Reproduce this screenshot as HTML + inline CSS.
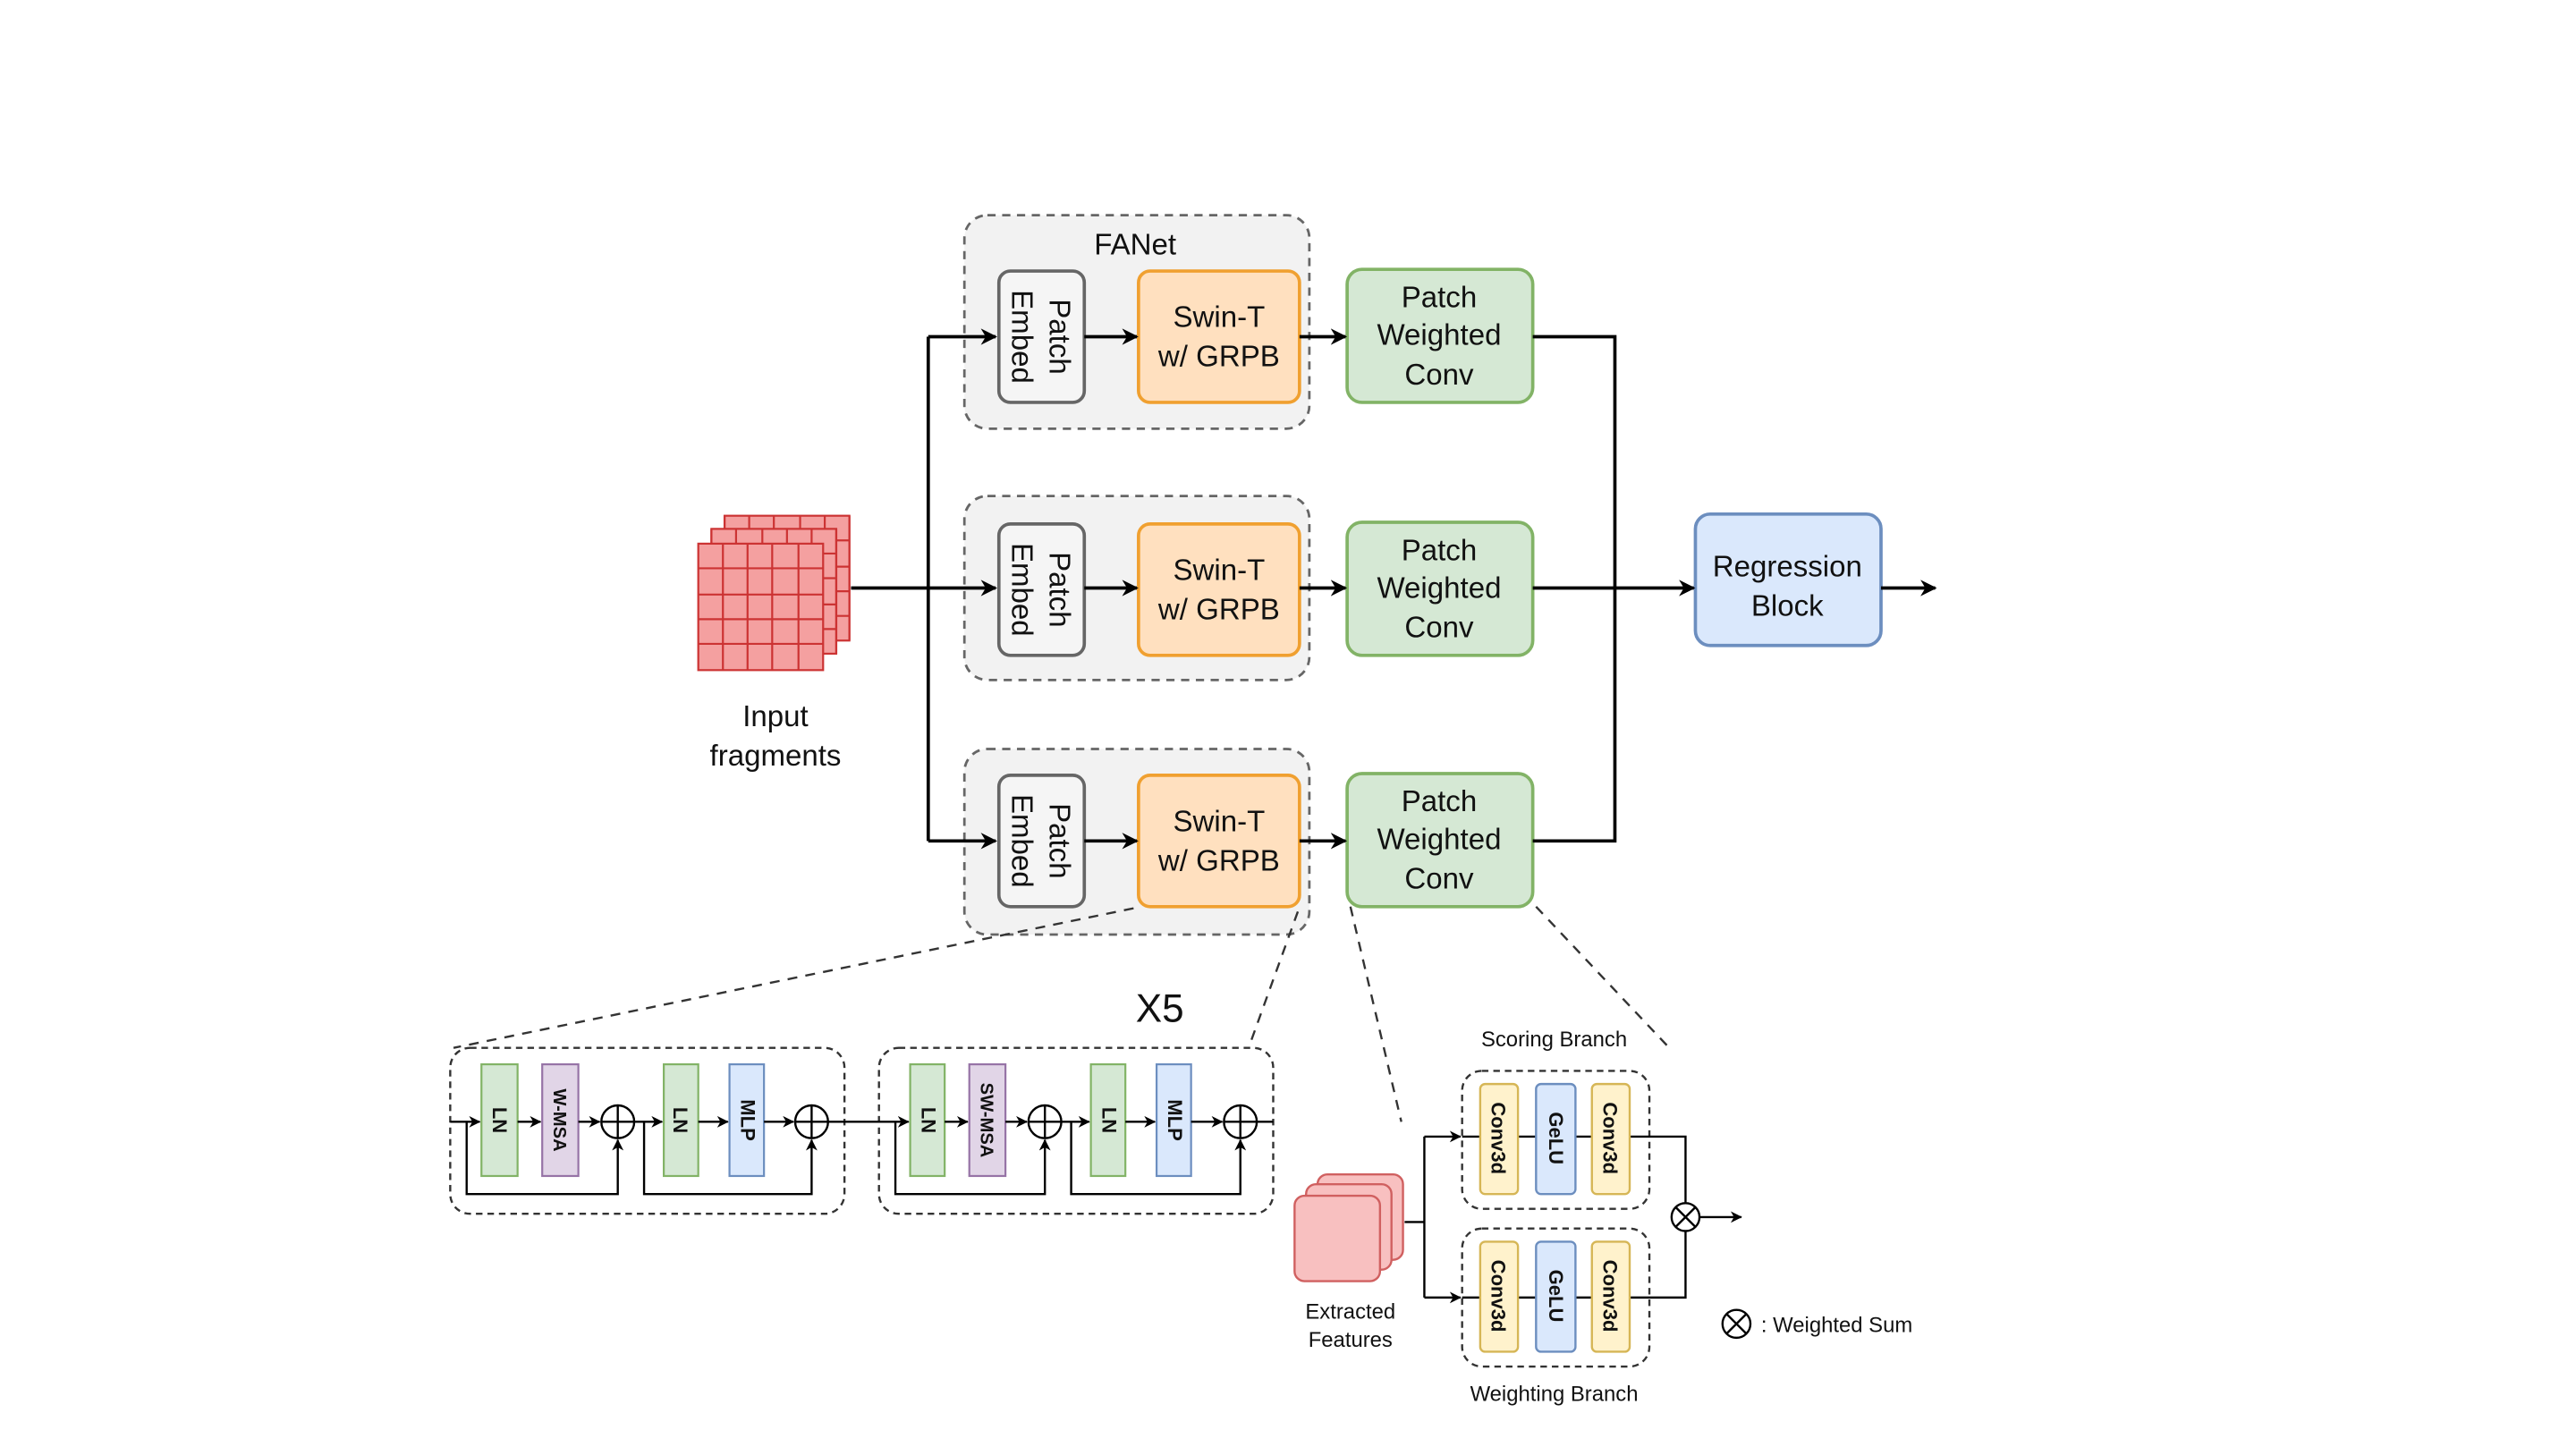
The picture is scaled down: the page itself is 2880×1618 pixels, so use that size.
<!DOCTYPE html>
<html><head><style>html,body{margin:0;padding:0;background:#fff}svg{display:block}text{font-family:"Liberation Sans",sans-serif;fill:#111}</style></head>
<body>
<svg width="2880" height="1618" viewBox="0 0 1568 881" xmlns="http://www.w3.org/2000/svg">
<defs>
<marker id="a" markerWidth="10" markerHeight="10" refX="9" refY="5" orient="auto" markerUnits="userSpaceOnUse"><path d="M0,0 L10,5 L0,10 L3,5z" fill="#000"/></marker>
<marker id="s" markerWidth="7" markerHeight="7" refX="6.5" refY="3.5" orient="auto" markerUnits="userSpaceOnUse"><path d="M0,0 L7,3.5 L0,7 L2,3.5z" fill="#000"/></marker>
</defs>
<rect width="1568" height="881" fill="#fff"/>
<!-- top rows -->
<g id="rows">
<rect x="587" y="131" width="210" height="130" rx="14" fill="#f2f2f2" stroke="#666" stroke-width="1.5" stroke-dasharray="5,4"/>
<rect x="587" y="302" width="210" height="112" rx="14" fill="#f2f2f2" stroke="#666" stroke-width="1.5" stroke-dasharray="5,4"/>
<rect x="587" y="456" width="210" height="113" rx="14" fill="#f2f2f2" stroke="#666" stroke-width="1.5" stroke-dasharray="5,4"/>
<text x="691" y="155" font-size="18" text-anchor="middle">FANet</text>
</g>
<g font-size="18" text-anchor="middle">
<!-- row template -->
<g>
<rect x="608" y="165" width="52" height="80" rx="7" fill="#f5f5f5" stroke="#666" stroke-width="2"/>
<text transform="translate(634,205) rotate(90)" y="-3"><tspan x="0" dy="-2">Patch</tspan><tspan x="0" dy="23">Embed</tspan></text>
<rect x="693" y="165" width="98" height="80" rx="7" fill="#ffe0bf" stroke="#f0a030" stroke-width="2"/>
<text x="742" y="199">Swin-T</text><text x="742" y="223">w/ GRPB</text>
<rect x="820" y="164" width="113" height="81" rx="9" fill="#d5e8d4" stroke="#82b366" stroke-width="2"/>
<text x="876" y="187">Patch</text><text x="876" y="210">Weighted</text><text x="876" y="234">Conv</text>
</g>
<g transform="translate(0,154)">
<rect x="608" y="165" width="52" height="80" rx="7" fill="#f5f5f5" stroke="#666" stroke-width="2"/>
<text transform="translate(634,205) rotate(90)" y="-3"><tspan x="0" dy="-2">Patch</tspan><tspan x="0" dy="23">Embed</tspan></text>
<rect x="693" y="165" width="98" height="80" rx="7" fill="#ffe0bf" stroke="#f0a030" stroke-width="2"/>
<text x="742" y="199">Swin-T</text><text x="742" y="223">w/ GRPB</text>
<rect x="820" y="164" width="113" height="81" rx="9" fill="#d5e8d4" stroke="#82b366" stroke-width="2"/>
<text x="876" y="187">Patch</text><text x="876" y="210">Weighted</text><text x="876" y="234">Conv</text>
</g>
<g transform="translate(0,307)">
<rect x="608" y="165" width="52" height="80" rx="7" fill="#f5f5f5" stroke="#666" stroke-width="2"/>
<text transform="translate(634,205) rotate(90)" y="-3"><tspan x="0" dy="-2">Patch</tspan><tspan x="0" dy="23">Embed</tspan></text>
<rect x="693" y="165" width="98" height="80" rx="7" fill="#ffe0bf" stroke="#f0a030" stroke-width="2"/>
<text x="742" y="199">Swin-T</text><text x="742" y="223">w/ GRPB</text>
<rect x="820" y="164" width="113" height="81" rx="9" fill="#d5e8d4" stroke="#82b366" stroke-width="2"/>
<text x="876" y="187">Patch</text><text x="876" y="210">Weighted</text><text x="876" y="234">Conv</text>
</g>
<rect x="1032" y="313" width="113" height="80" rx="9" fill="#dae8fc" stroke="#6c8ebf" stroke-width="2"/>
<text x="1088" y="351">Regression</text><text x="1088" y="375">Block</text>
<text x="472" y="442">Input</text><text x="472" y="466">fragments</text>
</g>
<!-- input fragments -->
<g stroke="#c33" stroke-width="1.2" fill="#f4a0a0">
<rect x="441" y="314" width="76" height="76"/><rect x="433" y="322" width="76" height="76"/><rect x="425" y="331" width="76" height="77"/>
<path d="M440 331V408M455 331V408M470 331V408M486 331V408M425 346H501M425 362H501M425 377H501M425 392H501" fill="none"/>
<path d="M433 322V331M448 322V331M464 322V331M479 322V331M494 322V331M509 322V398M509 337H501M509 352H501M509 368H501M509 383H501" fill="none"/>
<path d="M441 314V322M456 314V322M471 314V322M487 314V322M502 314V322M517 314V390M517 329H509M517 345H509M517 360H509M517 375H509" fill="none"/>
</g>
<!-- connectors top -->
<g stroke="#000" stroke-width="2" fill="none">
<path d="M518 358H565M565 205V512"/>
<path d="M565 205H606" marker-end="url(#a)"/><path d="M565 358H606" marker-end="url(#a)"/><path d="M565 512H606" marker-end="url(#a)"/>
<path d="M660 205H692" marker-end="url(#a)"/><path d="M660 358H692" marker-end="url(#a)"/><path d="M660 512H692" marker-end="url(#a)"/>
<path d="M791 205H819" marker-end="url(#a)"/><path d="M791 358H819" marker-end="url(#a)"/><path d="M791 512H819" marker-end="url(#a)"/>
<path d="M933 205H983V512H933M933 358H983"/>
<path d="M983 358H1031" marker-end="url(#a)"/>
<path d="M1145 358H1178" marker-end="url(#a)"/>
</g>
<!-- dashed zoom lines -->
<g stroke="#333" stroke-width="1.3" fill="none" stroke-dasharray="6,5">
<path d="M690 553L276 638M790 555L760 638M822 552L853 683M935 552L1018 640"/>
</g>
<text x="706" y="622" font-size="24" text-anchor="middle">X5</text>
<!-- bottom swin blocks -->
<g stroke="#333" stroke-width="1.3" fill="none" stroke-dasharray="4,3">
<rect x="274" y="638" width="240" height="101" rx="12"/><rect x="535" y="638" width="240" height="101" rx="12"/>
</g>
<g font-size="12" font-weight="bold" text-anchor="middle" stroke-width="1.2">
<rect x="293" y="648" width="22" height="68" fill="#d5e8d4" stroke="#82b366"/><text transform="translate(304,682) rotate(90)" y="4">LN</text>
<rect x="330" y="648" width="22" height="68" fill="#e1d5e7" stroke="#9673a6"/><text transform="translate(341,682) rotate(90)" y="4" font-size="11">W-MSA</text>
<rect x="404" y="648" width="21" height="68" fill="#d5e8d4" stroke="#82b366"/><text transform="translate(414,682) rotate(90)" y="4">LN</text>
<rect x="444" y="648" width="21" height="68" fill="#dae8fc" stroke="#6c8ebf"/><text transform="translate(455,682) rotate(90)" y="4">MLP</text>
<rect x="554" y="648" width="21" height="68" fill="#d5e8d4" stroke="#82b366"/><text transform="translate(565,682) rotate(90)" y="4">LN</text>
<rect x="590" y="648" width="22" height="68" fill="#e1d5e7" stroke="#9673a6"/><text transform="translate(601,682) rotate(90)" y="4" font-size="11">SW-MSA</text>
<rect x="664" y="648" width="21" height="68" fill="#d5e8d4" stroke="#82b366"/><text transform="translate(675,682) rotate(90)" y="4">LN</text>
<rect x="704" y="648" width="21" height="68" fill="#dae8fc" stroke="#6c8ebf"/><text transform="translate(715,682) rotate(90)" y="4">MLP</text>
</g>
<g stroke="#000" stroke-width="1.3" fill="none">
<circle cx="376" cy="683" r="10"/><path d="M366 683H386M376 673V693"/>
<circle cx="494" cy="683" r="10"/><path d="M484 683H504M494 673V693"/>
<circle cx="636" cy="683" r="10"/><path d="M626 683H646M636 673V693"/>
<circle cx="755" cy="683" r="10"/><path d="M745 683H765M755 673V693"/>
<path d="M274 683H292" marker-end="url(#s)"/><path d="M315 683H329" marker-end="url(#s)"/><path d="M352 683H365" marker-end="url(#s)"/>
<path d="M386 683H403" marker-end="url(#s)"/><path d="M425 683H443" marker-end="url(#s)"/><path d="M465 683H483" marker-end="url(#s)"/>
<path d="M504 683H553" marker-end="url(#s)"/><path d="M575 683H589" marker-end="url(#s)"/><path d="M612 683H625" marker-end="url(#s)"/>
<path d="M646 683H663" marker-end="url(#s)"/><path d="M685 683H703" marker-end="url(#s)"/><path d="M725 683H744" marker-end="url(#s)"/>
<path d="M765 683H775"/>
<path d="M284 683V727H376V694" marker-end="url(#s)"/><path d="M392 683V727H494V694" marker-end="url(#s)"/>
<path d="M545 683V727H636V694" marker-end="url(#s)"/><path d="M652 683V727H755V694" marker-end="url(#s)"/>
</g>
<!-- extracted features -->
<g fill="#f8c0c0" stroke="#d06060" stroke-width="1.3">
<rect x="802" y="715" width="52" height="52" rx="6"/><rect x="795" y="721" width="52" height="52" rx="6"/><rect x="788" y="728" width="52" height="52" rx="6"/>
</g>
<text x="822" y="803" font-size="13" text-anchor="middle">Extracted</text><text x="822" y="820" font-size="13" text-anchor="middle">Features</text>
<g stroke="#333" stroke-width="1.3" fill="none" stroke-dasharray="4,3">
<rect x="890" y="652" width="114" height="84" rx="12"/><rect x="890" y="748" width="114" height="84" rx="12"/>
</g>
<g stroke="#000" stroke-width="1.3" fill="none">
<path d="M855 744H867M867 692V790"/>
<path d="M867 692H889" marker-end="url(#s)"/><path d="M867 790H889" marker-end="url(#s)"/>
<path d="M890 692H1026V732M890 790H1026V750"/>
<circle cx="1026" cy="741" r="8.5" fill="#fff"/><path d="M1020 735L1032 747M1032 735L1020 747"/>
<path d="M1035 741H1060" marker-end="url(#s)"/>
<circle cx="1057" cy="806" r="8.5"/><path d="M1051 800L1063 812M1063 800L1051 812"/>
</g>
<g font-size="12" font-weight="bold" text-anchor="middle" stroke-width="1.3">
<rect x="901" y="660" width="23" height="67" rx="3" fill="#fff2cc" stroke="#d6b656"/><text transform="translate(912,693) rotate(90)" y="4">Conv3d</text>
<rect x="935" y="660" width="24" height="67" rx="3" fill="#dae8fc" stroke="#6c8ebf"/><text transform="translate(947,693) rotate(90)" y="4">GeLU</text>
<rect x="969" y="660" width="23" height="67" rx="3" fill="#fff2cc" stroke="#d6b656"/><text transform="translate(980,693) rotate(90)" y="4">Conv3d</text>
<rect x="901" y="756" width="23" height="67" rx="3" fill="#fff2cc" stroke="#d6b656"/><text transform="translate(912,789) rotate(90)" y="4">Conv3d</text>
<rect x="935" y="756" width="24" height="67" rx="3" fill="#dae8fc" stroke="#6c8ebf"/><text transform="translate(947,789) rotate(90)" y="4">GeLU</text>
<rect x="969" y="756" width="23" height="67" rx="3" fill="#fff2cc" stroke="#d6b656"/><text transform="translate(980,789) rotate(90)" y="4">Conv3d</text>
</g>
<text x="946" y="637" font-size="13" text-anchor="middle">Scoring Branch</text>
<text x="946" y="853" font-size="13" text-anchor="middle">Weighting Branch</text>
<text x="1072" y="811" font-size="13">: Weighted Sum</text>
</svg>
</body></html>
